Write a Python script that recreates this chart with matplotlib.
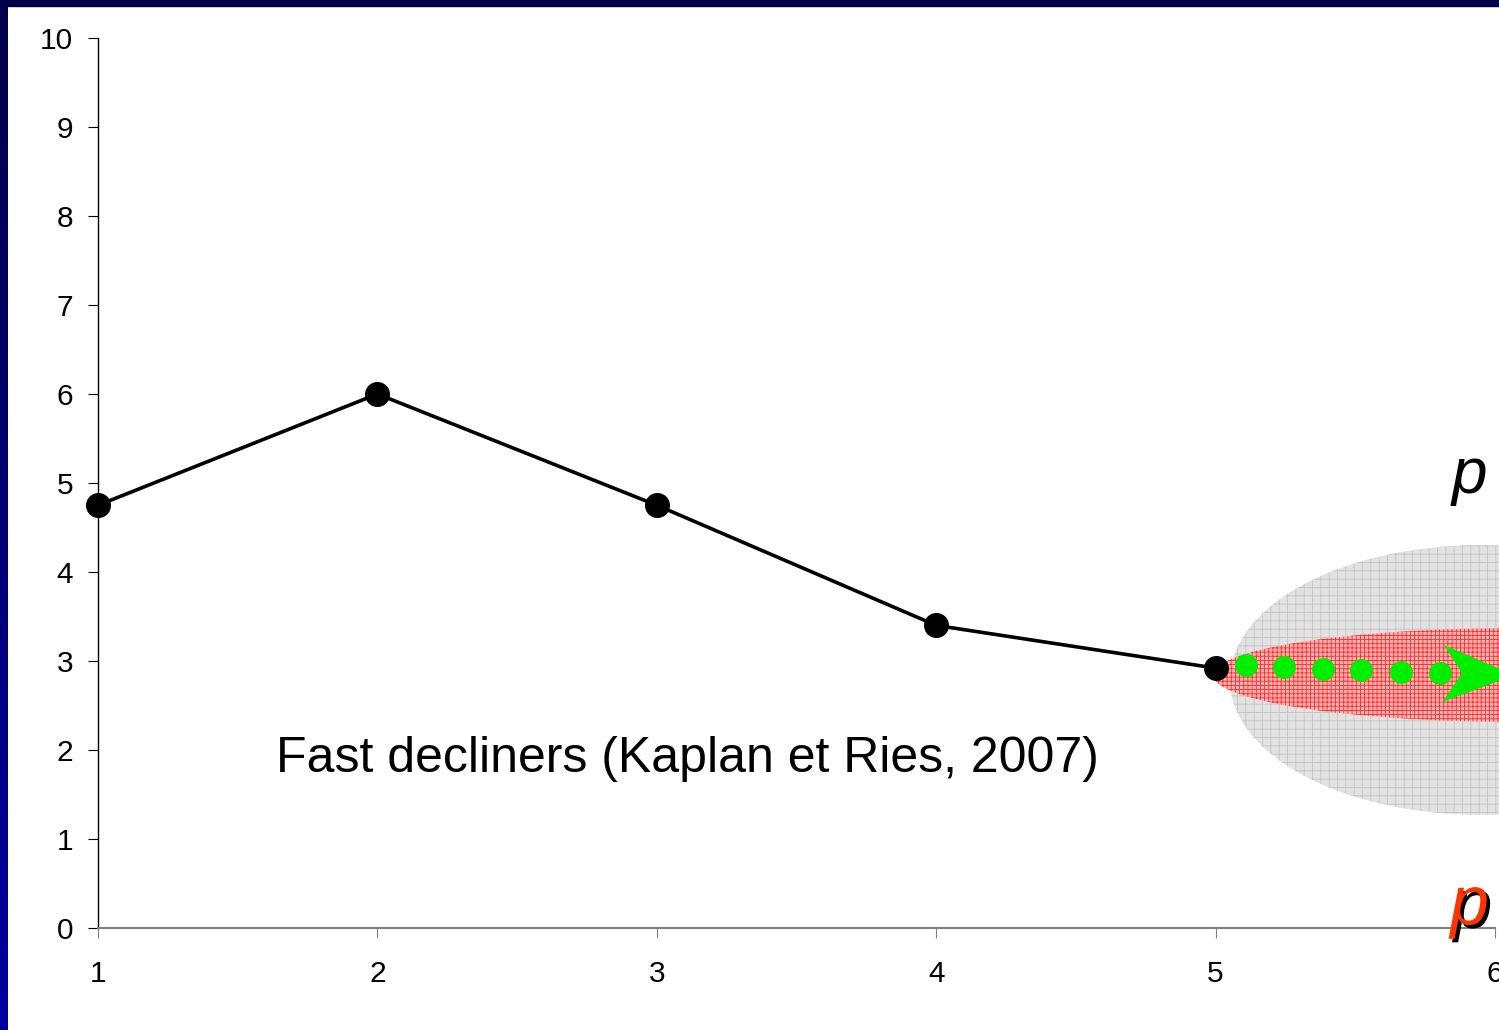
import numpy as np
import matplotlib.pyplot as plt
from matplotlib.patches import Ellipse, Polygon, Rectangle
import matplotlib.patheffects as pe

plt.rcParams['font.family'] = ['Liberation Sans', 'DejaVu Sans']

# courbe principale
x = [1, 2, 3, 4, 5]
y = [4.75, 6.0, 4.75, 3.4, 2.92]

# points verts (prolongation)
xg = [5.109, 5.246, 5.386, 5.522, 5.662, 5.802]
yg = [2.955, 2.933, 2.91, 2.90, 2.88, 2.865]

# tete de fleche verte : pointe, haut, encoche, bas
arrow_x = [6.07, 5.817, 5.882, 5.812]
arrow_y = [2.84, 3.18, 2.865, 2.54]

# zones grise et rouge (centre x, centre y, largeur, hauteur)
grey_zone = (5.946, 2.787, 1.79, 3.03)
red_zone = (6.09, 2.843, 2.2, 1.056)

xticks = [1, 2, 3, 4, 5, 6]
yticks = list(range(0, 11))

fig = plt.figure(figsize=(14.99, 10.30), dpi=100)
ax = fig.add_axes([98/1499, 1-928/1030, 1397/1499, 890/1030])

# bordures bleues
bord = fig.add_axes([0, 0, 8/1499, 1])
bord.imshow(np.linspace(0, 1, 256).reshape(-1, 1), aspect='auto',
            cmap=plt.matplotlib.colors.LinearSegmentedColormap.from_list('b', ['#000048', '#0000a0']))
bord.axis('off')
fig.patches.append(Rectangle((0, 1-6/1030), 1, 6/1030, transform=fig.transFigure,
                             color='#000048', zorder=10))

plt.rcParams['hatch.linewidth'] = 0.6
g = Ellipse(grey_zone[:2], grey_zone[2], grey_zone[3], facecolor='#e2e2e2',
            edgecolor='#c4c4c4', hatch='++', linewidth=0, clip_on=False, zorder=1)
ax.add_patch(g)
r = Ellipse(red_zone[:2], red_zone[2], red_zone[3], facecolor='#ffb4b4',
            edgecolor='#ff2a2a', hatch='++++', linewidth=0, clip_on=False, zorder=2)
ax.add_patch(r)

ax.plot(x, y, color='black', lw=2.6, marker='o', ms=17, zorder=4, clip_on=False)
ax.plot(xg, yg, 'o', color='#00ee00', ms=15.5, zorder=5, clip_on=False)
ax.add_patch(Polygon(np.column_stack([arrow_x, arrow_y]), closed=True,
                     facecolor='#00ee00', edgecolor='none', zorder=5, clip_on=False))

ax.text(1.637, 1.753, "Fast decliners (Kaplan et Ries, 2007)", fontsize=36,
        va='baseline', ha='left')
ax.text(5.845, 4.89, "p", fontsize=46, style='italic', va='baseline', ha='left')
ax.text(5.84, 0.04, "p", fontsize=50, style='italic', va='baseline', ha='left',
        color='#ff3300', zorder=6, clip_on=False,
        path_effects=[pe.SimplePatchShadow(offset=(2.5, -2.5), shadow_rgbFace='black', alpha=1),
                      pe.Normal()])

ax.set_xlim(1, 6)
ax.set_ylim(0, 10)
ax.set_xticks(xticks)
ax.set_yticks(yticks)
ax.tick_params(labelsize=21.5, length=7)
ax.tick_params(axis='x', pad=16, color='#808080')
ax.tick_params(axis='y', pad=11)
ax.spines['top'].set_visible(False)
ax.spines['right'].set_visible(False)
ax.spines['bottom'].set_color('#808080')
ax.spines['bottom'].set_linewidth(1.5)
ax.spines['left'].set_linewidth(1)
ax.patch.set_visible(False)

plt.savefig("out.png")
